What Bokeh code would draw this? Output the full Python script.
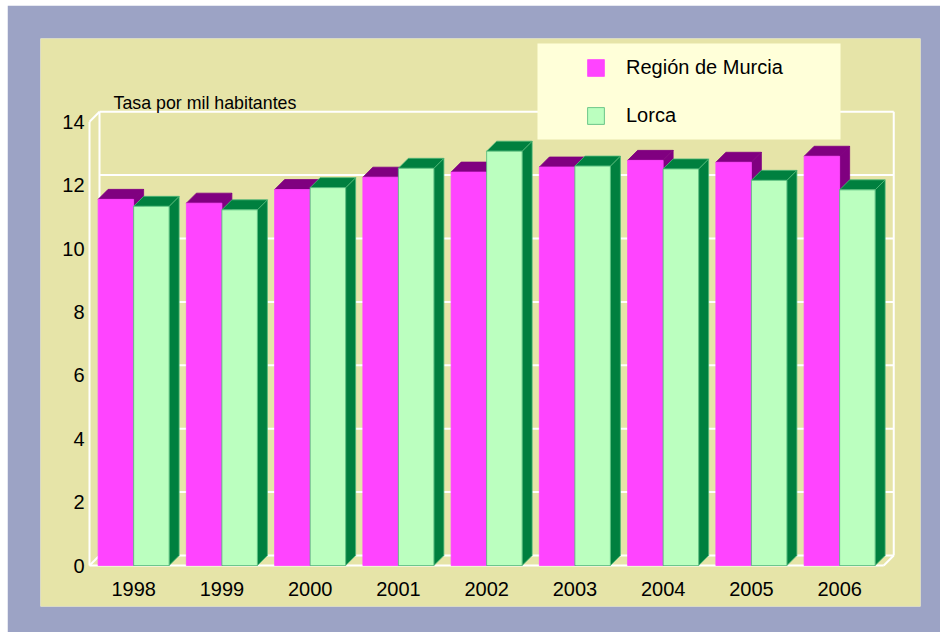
from bokeh.plotting import figure
from bokeh.models import Range1d, Legend, LegendItem, BoxAnnotation
from bokeh.core.properties import value
from bokeh.embed import file_html
from bokeh.resources import INLINE

# ---------------- data ----------------
years = ["1998", "1999", "2000", "2001", "2002", "2003", "2004", "2005", "2006"]
murcia = [11.55, 11.43, 11.86, 12.25, 12.41, 12.57, 12.78, 12.72, 12.91]
lorca = [11.33, 11.22, 11.92, 12.53, 13.07, 12.60, 12.51, 12.15, 11.85]
y_ticks = [0, 2, 4, 6, 8, 10, 12, 14]
series_names = ["Región de Murcia", "Lorca"]
y_title = "Tasa por mil habitantes"

# ---------------- styles ----------------
BLUE = "#9CA3C5"
KHAKI = "#E6E4A8"
LEGEND_BG = "#FFFFD9"
MAG_FRONT = "#FF44FF"
MAG_DARK = "#800080"
GRN_FRONT = "#BBFFBF"
GRN_DARK = "#00803F"
FONT = "Liberation Sans"

# layout constants (absolute page pixels)
PAGE_W, PAGE_H = 940, 632
OFF_L, OFF_T = 7, 5               # white strip before the blue frame
X0_PX, CAT_PX = 89.0, 88.25      # front plane x origin, px per category
Y0_PX, UNIT_PX = 565.0, 31.7      # front plane zero, px per unit
FRAME_L, FRAME_R, FRAME_T, FRAME_B = 40, 920, 38, 606
DEPTH_PX = 10


def to_x(px):
    return (px - X0_PX) / CAT_PX


def to_y(py):
    return (Y0_PX - py) / UNIT_PX


DX = DEPTH_PX / CAT_PX
DY = DEPTH_PX / UNIT_PX
BW = 35.5 / CAT_PX

n = len(years)
ymax = y_ticks[-1]

p = figure(width=PAGE_W - OFF_L, height=PAGE_H - OFF_T,
           x_range=Range1d(to_x(FRAME_L), to_x(FRAME_R)),
           y_range=Range1d(to_y(FRAME_B), to_y(FRAME_T)),
           x_axis_location=None, y_axis_location=None,
           toolbar_location=None, output_backend="svg",
           min_border_left=FRAME_L - OFF_L, min_border_right=PAGE_W - FRAME_R,
           min_border_top=FRAME_T - OFF_T, min_border_bottom=PAGE_H - FRAME_B,
           background_fill_color=KHAKI, border_fill_color=BLUE,
           outline_line_color=None)
p.margin = (OFF_T, 0, 0, OFF_L)
p.grid.visible = False

# ---------------- walls ----------------
gx0 = [DX] * len(y_ticks)
gx1 = [n + DX] * len(y_ticks)
gy = [t + DY for t in y_ticks]
p.segment(x0=gx0, y0=gy, x1=gx1, y1=gy, line_color="white", line_width=2)
p.segment(x0=[DX, n + DX, 0, 0, 0, 0, n],
          y0=[DY, DY, 0, 0, ymax, 0, 0],
          x1=[DX, n + DX, 0, DX, DX, n, n + DX],
          y1=[ymax + DY, ymax + DY, ymax, DY, ymax + DY, 0, DY],
          line_color="white", line_width=2)

# ---------------- 3D bars ----------------
renderers = []
for k, (vals, front, dark, edge) in enumerate([
        (murcia, MAG_FRONT, MAG_DARK, None),
        (lorca, GRN_FRONT, GRN_DARK, "#4FB878")]):
    lefts = [i + 0.5 - BW + k * BW for i in range(n)]
    rights = [l + BW for l in lefts]
    side_xs = [[r, r, r + DX, r + DX] for r in rights]
    side_ys = [[0, v, v + DY, DY] for v in vals]
    top_xs = [[l, r, r + DX, l + DX] for l, r in zip(lefts, rights)]
    top_ys = [[v, v, v + DY, v + DY] for v in vals]
    p.patches(xs=side_xs, ys=side_ys, fill_color=dark,
              line_color=edge if edge else dark, line_width=0.8)
    p.patches(xs=top_xs, ys=top_ys, fill_color=dark,
              line_color=edge if edge else dark, line_width=0.8)
    r = p.quad(left=lefts, right=rights, bottom=[0] * n, top=vals,
               fill_color=front, line_color=edge if edge else front,
               line_width=0.8)
    renderers.append(r)

# ---------------- texts ----------------
p.text(x=[to_x(84)] * len(y_ticks), y=y_ticks, text=[str(t) for t in y_ticks],
       text_align="right", text_baseline="middle", text_color="black",
       text_font=value(FONT), text_font_size=value("20px"))
p.text(x=[i + 0.5 for i in range(n)], y=[to_y(588)] * n, text=years,
       text_align="center", text_baseline="middle", text_color="black",
       text_font=value(FONT), text_font_size=value("20px"))
p.text(x=[to_x(113)], y=[to_y(102.5)], text=[y_title],
       text_align="left", text_baseline="alphabetic", text_color="black",
       text_font=value(FONT), text_font_size=value("17.8px"))

# ---------------- legend ----------------
p.add_layout(BoxAnnotation(left=to_x(537), right=to_x(840),
                           top=to_y(43), bottom=to_y(139),
                           fill_color=LEGEND_BG, fill_alpha=1,
                           line_color=None))
legend = Legend(items=[LegendItem(label=series_names[0], renderers=[renderers[0]]),
                       LegendItem(label=series_names[1], renderers=[renderers[1]])],
                location=(545, 479), orientation="vertical",
                background_fill_alpha=0, border_line_color=None,
                padding=0, margin=0, spacing=24,
                glyph_width=21, glyph_height=21, label_standoff=20,
                label_height=24,
                label_text_font=FONT, label_text_font_size="20px",
                label_text_color="black")
p.add_layout(legend)

open("out.html", "w").write(file_html(p, INLINE))
